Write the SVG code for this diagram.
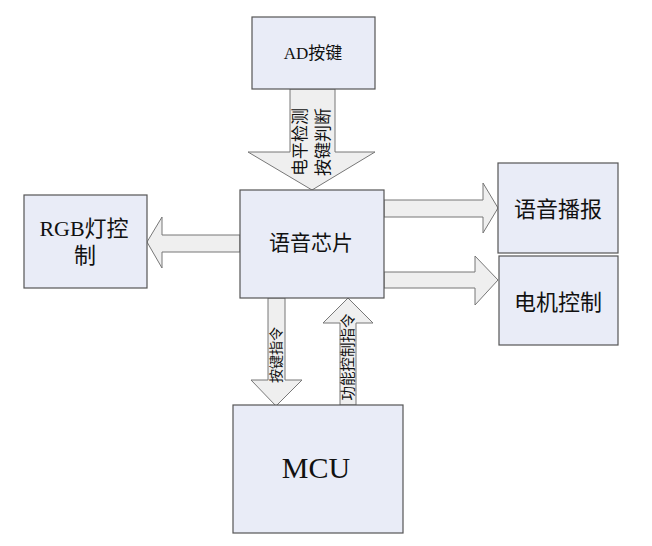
<svg xmlns="http://www.w3.org/2000/svg" width="652" height="546" viewBox="0 0 652 546">
<style>
.box{fill:#e9ecf7;stroke:#555;stroke-width:1.2}
.arr{fill:#efefef;stroke:#777;stroke-width:1}
.t{font-family:"Liberation Serif","Noto Sans CJK SC",serif;fill:#111;text-anchor:middle;dominant-baseline:central}
</style>
<rect width="652" height="546" fill="#fff"/>
<g id="connectors">
<polygon class="arr" points="290,89 335,89 335,152 375,152 312,190 248,152 290,152"/>
<polygon class="arr" points="240,235 162,235 162,217 147,242 162,268 162,252 240,252"/>
<polygon class="arr" points="384,200 483,200 483,183 498,208 483,233 483,217 384,217"/>
<polygon class="arr" points="384,272 475,272 475,256 498,280 475,305 475,288 384,288"/>
<polygon class="arr" points="268,298 285,298 285,380 302,380 276,406 251,380 268,380"/>
<polygon class="arr" points="340,405 356,405 356,323 373,323 348,298 323,323 340,323"/>
<text class="t" font-size="17" transform="translate(300,142) rotate(-90)">电平检测</text>
<text class="t" font-size="17" transform="translate(323,142) rotate(-90)">按键判断</text>
<text class="t" font-size="14" transform="translate(276,355) rotate(-90)">按键指令</text>
<text class="t" font-size="14.5" transform="translate(348,357) rotate(-90)">功能控制指令</text>
</g>
<g id="ad"><rect class="box" x="252" y="17" width="123" height="72"/><text class="t" x="313" y="53" font-size="17">AD按键</text></g>
<g id="chip"><rect class="box" x="240" y="190" width="144" height="108"/><text class="t" x="311" y="243" font-size="21">语音芯片</text></g>
<g id="rgb"><rect class="box" x="24" y="195" width="123" height="93"/><text class="t" x="84" y="228" font-size="22">RGB灯控</text><text class="t" x="85" y="255" font-size="22">制</text></g>
<g id="voice"><rect class="box" x="498" y="163" width="120" height="90"/><text class="t" x="558" y="209" font-size="22">语音播报</text></g>
<g id="motor"><rect class="box" x="499" y="256" width="119" height="89"/><text class="t" x="558" y="302" font-size="22">电机控制</text></g>
<g id="mcu"><rect class="box" x="233" y="405" width="170" height="128"/><text class="t" x="316" y="467" font-size="30">MCU</text></g>
</svg>
